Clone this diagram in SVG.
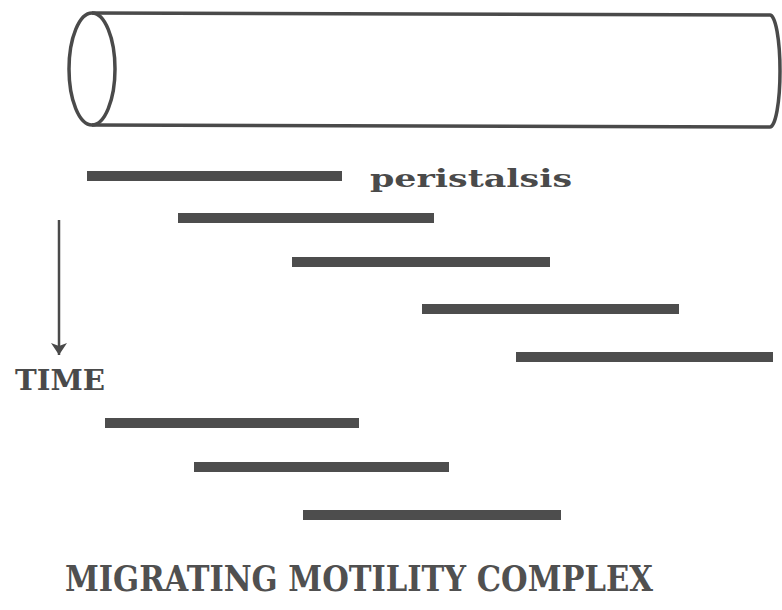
<svg xmlns="http://www.w3.org/2000/svg" width="782" height="610" viewBox="0 0 782 610">
<style>
.bar{stroke:#4d4d4d;stroke-width:10;stroke-linecap:butt}
.tube{fill:none;stroke:#4a4a4a;stroke-width:3.5}
.lbl{font-family:"DejaVu Serif","Liberation Serif",serif;font-weight:bold;fill:#4a4a4a}
.title{font-family:"DejaVu Serif","Liberation Serif",serif;font-weight:bold;fill:#505050}
</style>
<defs>
<marker id="ah" markerWidth="14" markerHeight="16" refX="12" refY="8" orient="auto" markerUnits="userSpaceOnUse" viewBox="0 0 14 16">
<path d="M0,0 L12,8 L0,16 L3,8 Z" fill="#4a4a4a"/>
</marker>
</defs>
<rect width="782" height="610" fill="#ffffff"/>
<g id="tube">
<path class="tube" d="M92,13 L770,15 A10,56 0 0 1 770,127 L92,125"/>
<ellipse class="tube" cx="92" cy="69" rx="23" ry="56"/>
</g>
<g id="bars">
<line class="bar" x1="87" y1="176" x2="342" y2="176"/>
<line class="bar" x1="178" y1="218" x2="434" y2="218"/>
<line class="bar" x1="292" y1="262" x2="550" y2="262"/>
<line class="bar" x1="422" y1="309" x2="679" y2="309"/>
<line class="bar" x1="516" y1="357" x2="773" y2="357"/>
<line class="bar" x1="105" y1="423" x2="359" y2="423"/>
<line class="bar" x1="194" y1="467" x2="449" y2="467"/>
<line class="bar" x1="303" y1="515" x2="561" y2="515"/>
</g>
<g id="connectors">
<line x1="59" y1="220" x2="59" y2="355" stroke="#4a4a4a" stroke-width="2.5" marker-end="url(#ah)"/>
</g>
<g id="labels">
<text class="lbl" x="370" y="187" font-size="25" textLength="202" lengthAdjust="spacingAndGlyphs">peristalsis</text>
<text class="lbl" x="15" y="390" font-size="28" textLength="90" lengthAdjust="spacingAndGlyphs">TIME</text>
<text class="title" x="65" y="591" font-size="35" textLength="588" lengthAdjust="spacingAndGlyphs">MIGRATING MOTILITY COMPLEX</text>
</g>
</svg>
